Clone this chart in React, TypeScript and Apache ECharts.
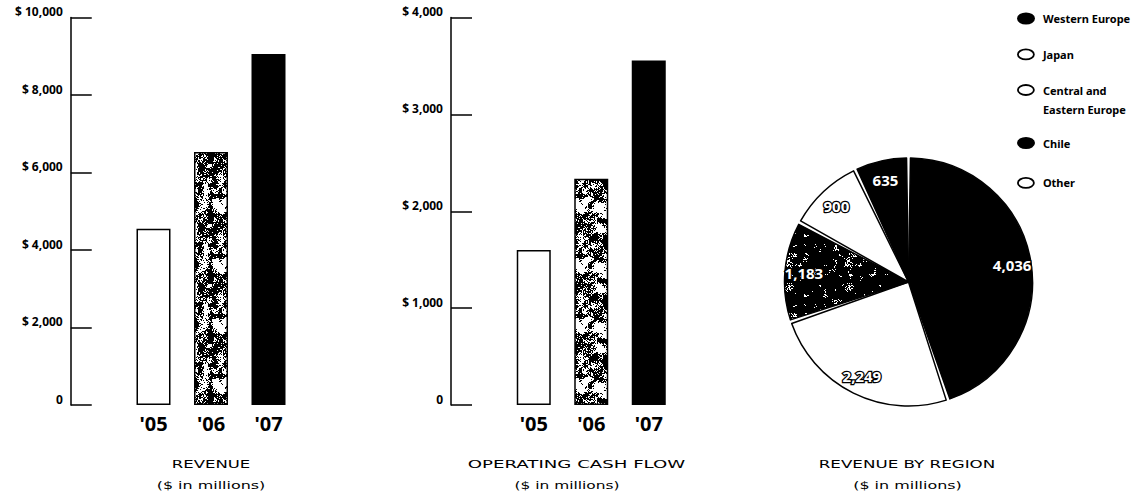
import { useEffect, useRef } from 'react';
import * as echarts from 'echarts';

// Fiscal years shown on both bar charts
const years = ["'05", "'06", "'07"];
// $ in millions
const revenue = [4550, 6530, 9060];
const operatingCashFlow = [1600, 2335, 3556];

// Revenue by region, in pie order (clockwise from 12 o'clock)
const regions = ['Western Europe', 'Japan', 'Central and Eastern Europe', 'Other', 'Chile'];
const regionRevenue = [4036, 2249, 1183, 900, 635];
// Legend order
const legendNames = ['Western Europe', 'Japan', 'Central and Eastern Europe', 'Chile', 'Other'];

const revenueAxis = { max: 10000, interval: 2000 };
const cashFlowAxis = { max: 4000, interval: 1000 };

const FONT = '"Noto Sans", "DejaVu Sans", sans-serif';
const CEE = 'Central and Eastern Europe';

// Deterministic speckle texture (hash-based value noise) used for the mottled fills
function hash(x: number, y: number, seed: number): number {
  let h = (x * 374761393 + y * 668265263 + seed * 982451653) | 0;
  h = Math.imul(h ^ (h >>> 13), 1274126177);
  h = h ^ (h >>> 16);
  return (h >>> 0) / 4294967295;
}

function speckle(size: number, cell: number, darkness: number, seed: number) {
  const canvas = document.createElement('canvas');
  canvas.width = size;
  canvas.height = size;
  const ctx = canvas.getContext('2d')!;
  const img = ctx.createImageData(size, size);
  const cells = size / cell;
  const smooth = (t: number) => t * t * (3 - 2 * t);
  for (let y = 0; y < size; y++) {
    for (let x = 0; x < size; x++) {
      const gx = x / cell;
      const gy = y / cell;
      const x0 = Math.floor(gx);
      const y0 = Math.floor(gy);
      const fx = smooth(gx - x0);
      const fy = smooth(gy - y0);
      const a = hash(x0 % cells, y0 % cells, seed);
      const b = hash((x0 + 1) % cells, y0 % cells, seed);
      const c = hash(x0 % cells, (y0 + 1) % cells, seed);
      const d = hash((x0 + 1) % cells, (y0 + 1) % cells, seed);
      const n = (a * (1 - fx) + b * fx) * (1 - fy) + (c * (1 - fx) + d * fx) * fy;
      const v = 0.6 * n + 0.4 * hash(x, y, seed + 7);
      const dark = v < darkness;
      const i = (y * size + x) * 4;
      const shade = dark ? 0 : 255;
      img.data[i] = shade;
      img.data[i + 1] = shade;
      img.data[i + 2] = shade;
      img.data[i + 3] = 255;
    }
  }
  ctx.putImageData(img, 0, 0);
  return {
    image: canvas.toDataURL(),
    repeat: 'repeat',
    imageWidth: size,
    imageHeight: size,
  };
}

const ELLIPSE = 'path://M0,5A8,5,0,1,1,16,5A8,5,0,1,1,0,5Z';

export default function App() {
  const ref = useRef<HTMLDivElement>(null);

  useEffect(() => {
    if (!ref.current) return;
    const chart = echarts.init(ref.current, undefined, { renderer: 'svg' });

    const barTexture = speckle(60, 5, 0.5, 3);
    const sliceTexture = speckle(60, 5, 0.78, 11);

    const yearFills: any[] = ['#ffffff', barTexture, '#000000'];
    const regionFills: any[] = ['#000000', '#ffffff', sliceTexture, '#ffffff', '#000000'];
    const legendFills: Record<string, any> = {
      'Western Europe': { color: '#000' },
      Japan: { color: '#fff', borderColor: '#000', borderWidth: 1.8 },
      [CEE]: { color: '#fff', borderColor: '#000', borderWidth: 1.8 },
      Chile: { color: '#000' },
      Other: { color: '#fff', borderColor: '#000', borderWidth: 1.8 },
    };
    const legendTops = [12.5, 48.5, 61.5, 137, 177];

    const money = (v: number) => (v === 0 ? '0' : '$ ' + v.toLocaleString('en-US'));

    const yAxisBase = (gridIndex: number, axis: { max: number; interval: number }) => ({
      gridIndex,
      type: 'value',
      min: 0,
      max: axis.max,
      interval: axis.interval,
      offset: 54,
      axisLine: { show: true, lineStyle: { color: '#000', width: 1.5 } },
      axisTick: { show: true, inside: true, length: 21, lineStyle: { color: '#000', width: 1.5 } },
      splitLine: { show: false },
      axisLabel: {
        formatter: money,
        color: '#000',
        fontFamily: FONT,
        fontWeight: 'bold',
        fontSize: 12,
        margin: 8,
        verticalAlign: 'bottom',
      },
    });

    const xAxisBase = (gridIndex: number) => ({
      gridIndex,
      type: 'category',
      data: years,
      axisLine: { show: false },
      axisTick: { show: false },
      axisLabel: { color: '#000', fontFamily: FONT, fontWeight: 'bold', fontSize: 20, margin: 8 },
    });

    const barSeries = (idx: number, values: number[]) => ({
      type: 'bar',
      xAxisIndex: idx,
      yAxisIndex: idx,
      barWidth: 34,
      data: values.map((v, i) => ({
        value: v,
        itemStyle: { color: yearFills[i], borderColor: '#000', borderWidth: 1.5 },
      })),
    });

    const titles = [
      { text: 'REVENUE', x: 211, y: 464, sx: 1.5 },
      { text: '($ in millions)', x: 211, y: 485, sx: 1.45 },
      { text: 'OPERATING CASH FLOW', x: 576.5, y: 464, sx: 1.65 },
      { text: '($ in millions)', x: 567, y: 485, sx: 1.4 },
      { text: 'REVENUE BY REGION', x: 907, y: 464, sx: 1.52 },
      { text: '($ in millions)', x: 907.5, y: 485, sx: 1.45 },
    ];

    chart.setOption({
      animation: false,
      backgroundColor: '#ffffff',
      grid: [
        { left: 124.75, top: 17.5, width: 172.5, height: 387.5 },
        { left: 505, top: 17.5, width: 172.5, height: 387.5 },
      ],
      xAxis: [xAxisBase(0), xAxisBase(1)],
      yAxis: [yAxisBase(0, revenueAxis), yAxisBase(1, cashFlowAxis)],
      legend: legendNames.map((name, i) => ({
        data: [{ name, icon: ELLIPSE, itemStyle: legendFills[name] }],
        left: 1017,
        top: legendTops[i],
        orient: 'vertical',
        padding: 0,
        itemWidth: 16,
        itemHeight: 10,
        selectedMode: false,
        // the two-line entry gets an empty first line so its first row sits beside the icon
        formatter: (n: string) => (n === CEE ? '\nCentral and\nEastern Europe' : n),
        textStyle: {
          fontFamily: FONT,
          fontWeight: 'bold',
          fontSize: 11,
          color: '#000',
          padding: [0, 0, 0, 4],
          ...(name === CEE ? { lineHeight: 19 } : {}),
        },
      })),
      graphic: titles.map((t) => ({
        type: 'text',
        x: t.x,
        y: t.y,
        scaleX: t.sx,
        style: {
          text: t.text,
          font: '11px "DejaVu Sans"',
          fill: '#000',
          align: 'center',
          verticalAlign: 'middle',
        },
      })),
      series: [
        barSeries(0, revenue),
        barSeries(1, operatingCashFlow),
        {
          type: 'pie',
          center: [908.5, 282],
          radius: 124,
          startAngle: 90,
          padAngle: 1.8,
          label: { show: false },
          labelLine: { show: false },
          emphasis: { disabled: true },
          data: regions.map((name, i) => ({
            name,
            value: regionRevenue[i],
            itemStyle: { color: regionFills[i], borderColor: '#000', borderWidth: 1.5 },
          })),
        },
        {
          // value labels, placed further out than the default inside position
          type: 'pie',
          center: [908.5, 282],
          radius: [80, 124],
          startAngle: 90,
          silent: true,
          itemStyle: { color: 'rgba(0,0,0,0)', borderWidth: 0 },
          labelLine: { show: false },
          label: {
            show: true,
            position: 'inside',
            formatter: (p: any) => Number(p.value).toLocaleString('en-US'),
            color: '#fff',
            fontFamily: FONT,
            fontWeight: 'bold',
            fontSize: 15,
            textBorderColor: '#000',
            textBorderWidth: 2.5,
          },
          emphasis: { disabled: true },
          data: regions.map((name, i) => ({ name, value: regionRevenue[i] })),
        },
      ],
    });

    return () => chart.dispose();
  }, []);

  return (
    <div
      ref={ref}
      style={{ position: 'fixed', left: 0, top: 0, width: 1140, height: 496, background: '#fff' }}
    />
  );
}
